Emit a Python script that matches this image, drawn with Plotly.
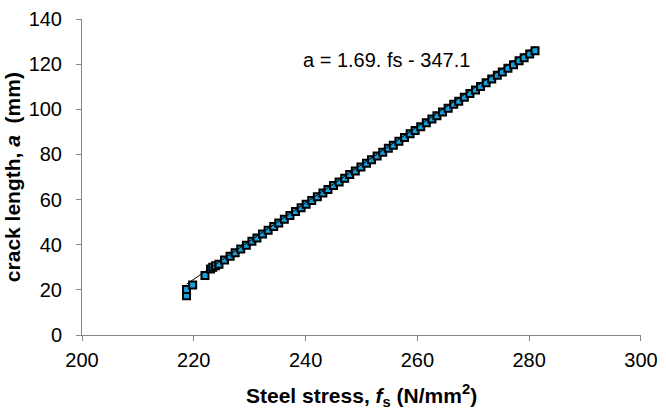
import plotly.graph_objects as go

# Data
fs_values = [218.7, 218.7, 219.8, 222.0, 223.0, 223.4, 223.9,
             224.5, 225.5, 226.5, 227.4, 228.4, 229.4, 230.4, 231.3, 232.3, 233.3,
             234.3, 235.2, 236.2, 237.2, 238.2, 239.2, 240.1, 241.1, 242.1, 243.1,
             244.0, 245.0, 246.0, 247.0, 247.9, 248.9, 249.9, 250.9, 251.8, 252.8,
             253.8, 254.8, 255.7, 256.7, 257.7, 258.7, 259.6, 260.6, 261.6, 262.6,
             263.5, 264.5, 265.5, 266.5, 267.4, 268.4, 269.4, 270.4, 271.3, 272.3,
             273.3, 274.3, 275.2, 276.2, 277.2, 278.2, 279.1, 280.1, 281.05]
a_values = [17.4, 20.2, 22.1, 26.4, 29.3, 30.0, 30.7,
            31.4, 33.2, 34.9, 36.4, 38.1, 39.8, 41.5, 43.0, 44.7, 46.4,
            48.1, 49.6, 51.3, 53.0, 54.7, 56.4, 57.9, 59.6, 61.3, 62.9,
            64.5, 66.2, 67.8, 69.5, 71.1, 72.7, 74.4, 76.1, 77.6, 79.3,
            81.0, 82.7, 84.1, 85.8, 87.5, 89.2, 90.6, 92.3, 94.0, 95.7,
            97.1, 98.8, 100.5, 102.2, 103.6, 105.3, 107.0, 108.6, 110.1, 111.8,
            113.4, 115.1, 116.5, 118.2, 119.8, 121.5, 122.9, 124.5, 125.9]
slope = 1.69
intercept = -347.1
x_ticks = [200, 220, 240, 260, 280, 300]
y_ticks = [0, 20, 40, 60, 80, 100, 120, 140]

trend_x = [min(fs_values), max(fs_values)]
trend_y = [slope * v + intercept for v in trend_x]

FONT = "Liberation Sans, Arial, sans-serif"
AXIS_COLOR = "#868686"

fig = go.Figure()
fig.add_trace(go.Scatter(
    x=fs_values, y=a_values, mode="markers",
    marker=dict(symbol="square", size=7, color="#1AA0DC",
                line=dict(color="black", width=2)),
    showlegend=False, hoverinfo="x+y"))
fig.add_trace(go.Scatter(
    x=trend_x, y=trend_y, mode="lines",
    line=dict(color="black", width=1), showlegend=False))

fig.update_layout(
    width=666, height=416,
    margin=dict(l=82, r=15, t=8, b=81),
    paper_bgcolor="white", plot_bgcolor="white",
    font=dict(family=FONT, size=20, color="black"),
    xaxis=dict(range=[200, 300.01], tickvals=x_ticks, showgrid=False, zeroline=False,
               showline=True, linecolor=AXIS_COLOR, linewidth=1,
               ticks="outside", ticklen=5, tickcolor=AXIS_COLOR,
               ticklabeloverflow="allow", ticklabelstandoff=2,
               tickfont=dict(family=FONT, size=20, color="black")),
    yaxis=dict(range=[0, 140.02], tickvals=y_ticks, showgrid=False, zeroline=False,
               showline=True, linecolor=AXIS_COLOR, linewidth=1,
               ticks="outside", ticklen=5, tickcolor=AXIS_COLOR,
               ticklabelstandoff=10, ticklabeloverflow="allow",
               tickfont=dict(family=FONT, size=20, color="black")),
    annotations=[
        dict(text="a = 1.69. fs - 347.1", x=254.5, y=122, xref="x", yref="y",
             showarrow=False, font=dict(family=FONT, size=20, color="black")),
        dict(text="<b>Steel stress, <i>f</i><sub>s</sub> (N/mm<sup>2</sup>)</b>",
             x=0.5, y=-0.193, xref="paper", yref="paper", yanchor="middle",
             showarrow=False, font=dict(family=FONT, size=21, color="black")),
        dict(text="<b>crack length, <i>a</i>  (mm)</b>", textangle=-90,
             x=-0.125, y=0.5, xref="paper", yref="paper", xanchor="center",
             showarrow=False, font=dict(family=FONT, size=21, color="black")),
    ],
)

fig.write_html("out.html")
